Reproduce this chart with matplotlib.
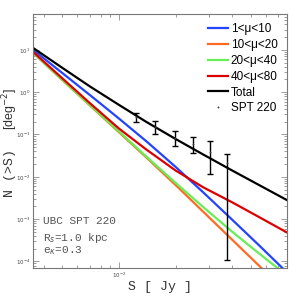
import matplotlib
matplotlib.use('Agg')
import matplotlib.pyplot as plt
from matplotlib.ticker import NullFormatter

# flux grid (Jy) shared by the model curves
S = [0.0035, 0.005, 0.007, 0.01, 0.014, 0.02, 0.028, 0.04, 0.056, 0.078]

mu_1_10 = [10.0, 2.84, 0.86, 0.238, 0.0687, 0.0171, 0.0043, 9.6e-4, 2.30e-4, 5.5e-5]
mu_10_20 = [8.5, 1.94, 0.489, 0.113, 0.0285, 0.00637, 0.0015, 3.23e-4, 7.6e-5, 1.8e-5]
mu_20_40 = [8.5, 1.97, 0.50, 0.118, 0.0299, 0.00718, 0.00193, 4.99e-4, 1.49e-4, 4.65e-5]
mu_40_80 = [8.97, 2.13, 0.553, 0.138, 0.0438, 0.01406, 0.00565, 0.00248, 0.00109, 4.83e-4]
total = [11.1, 3.76, 1.37, 0.50, 0.197, 0.078, 0.0336, 0.0140, 0.00623, 0.00281]

# SPT 220 GHz counts
spt_S = [0.0123, 0.0155, 0.0199, 0.0248, 0.0305, 0.0375]
spt_N = [0.263, 0.153, 0.084, 0.0607, 0.0393, 0.0216]
spt_lo = [0.200, 0.104, 0.0545, 0.0372, 0.0119, 1.06e-4]
spt_hi = [0.327, 0.211, 0.123, 0.0887, 0.0714, 0.0352]

labels = ['1<\u03bc<10', '10<\u03bc<20', '20<\u03bc<40', '40<\u03bc<80', 'Total']
colors = ['#2244ff', '#ff6a22', '#66ee55', '#dd0000', 'black']
y_ticks = [1e-4, 1e-3, 1e-2, 1e-1, 1e0, 1e1]
x_ticks = [1e-2]

fig = plt.figure(figsize=(3.08, 3.01), dpi=100)
ax = fig.add_axes([33/308, 1-268/301, 254/308, 254/301])

for y, lab, c in zip([mu_1_10, mu_10_20, mu_20_40, mu_40_80, total], labels, colors):
    ax.plot(S, y, color=c, lw=1.6, label=lab)

yerr = [[n - lo for n, lo in zip(spt_N, spt_lo)], [hi - n for n, hi in zip(spt_N, spt_hi)]]
ax.errorbar(spt_S, spt_N, yerr=yerr, fmt='none', ecolor='black', elinewidth=1.0,
            capsize=2.5, capthick=1.0)
ax.plot(spt_S, spt_N, ls='none', marker='+', ms=2, color='#444444', mew=0.6, label='SPT 220')

ax.set_xscale('log')
ax.set_yscale('log')
ax.set_xticks(x_ticks)
ax.set_yticks(y_ticks)
ax.set_xlim(0.0035, 0.078)
ax.set_ylim(7e-5, 70)
ax.xaxis.set_minor_formatter(NullFormatter())
ax.yaxis.set_minor_formatter(NullFormatter())

for sp in ax.spines.values():
    sp.set_color('#777777')
    sp.set_linewidth(0.8)
ax.tick_params(which='both', direction='in', top=True, right=True, colors='#777777',
               labelcolor='#444444', labelsize=4, width=0.5, pad=2)
ax.tick_params(which='major', length=4)
ax.tick_params(which='minor', length=2)

ax.set_xlabel('S [ Jy ]', family='Liberation Mono', fontsize=9.5, color='#333333', labelpad=1)

# y label: monospace part and sans part, as in the original
fig.text(10/308, 1-173/301, 'N (>S)', family='Liberation Mono', fontsize=9.5,
         color='#333333', rotation=90, ha='center', va='center')
fig.text(10/308, 1-109/301, '[deg$^{-2}$]', family='Liberation Sans', fontsize=9,
         color='#333333', rotation=90, ha='center', va='center')

ax.text(0.04, 0.185, 'UBC SPT 220', transform=ax.transAxes, family='Liberation Mono',
        fontsize=8, color='#555555', va='center')
ax.text(0.04, 0.12, 'R$_{s}$=1.0 kpc', transform=ax.transAxes, family='Liberation Mono',
        fontsize=8, color='#555555', va='center')
ax.text(0.04, 0.07, 'e$_{\\kappa}$=0.3', transform=ax.transAxes, family='Liberation Mono',
        fontsize=8, color='#555555', va='center')

ax.legend(loc='upper right', frameon=False, prop={'family': 'Liberation Sans', 'size': 8.5},
          handlelength=1.7, handletextpad=0.2, labelspacing=0.32, borderaxespad=0.4)

fig.savefig('out.png', dpi=100)
